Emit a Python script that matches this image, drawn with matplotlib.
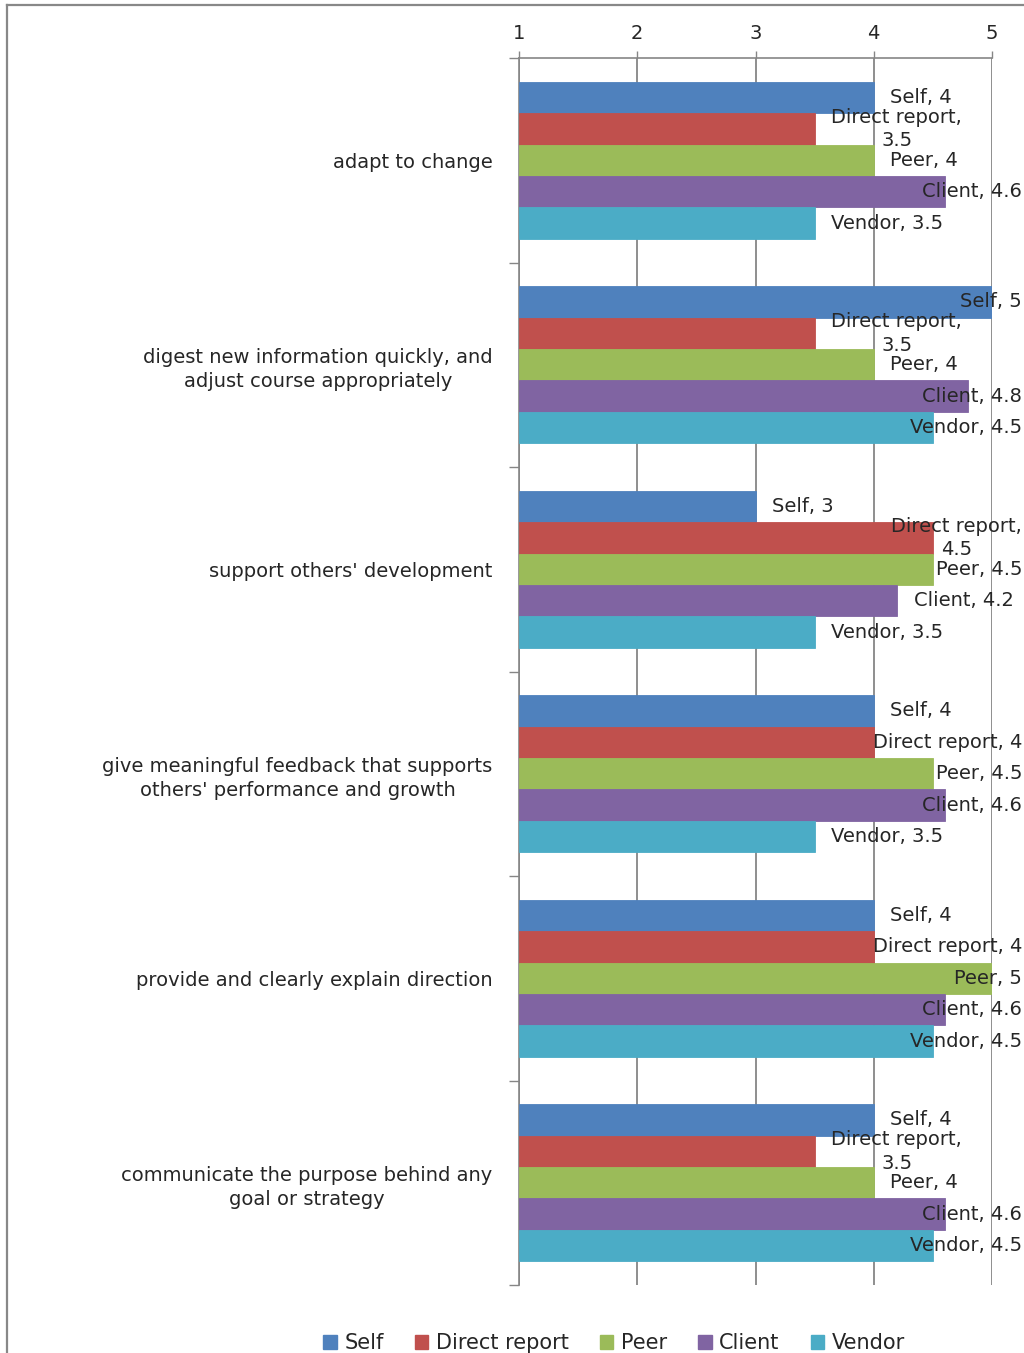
import matplotlib
matplotlib.use("Agg")
import matplotlib.pyplot as plt
from matplotlib.patches import Patch
from matplotlib.lines import Line2D
import numpy as np

categories = [
    "adapt to change",
    "digest new information quickly, and\nadjust course appropriately",
    "support others' development",
    "give meaningful feedback that supports\nothers' performance and growth",
    "provide and clearly explain direction",
    "communicate the purpose behind any\ngoal or strategy",
]
series = ["Self", "Direct report", "Peer", "Client", "Vendor"]
self_vals = [4, 5, 3, 4, 4, 4]
direct_vals = [3.5, 3.5, 4.5, 4, 4, 3.5]
peer_vals = [4, 4, 4.5, 4.5, 5, 4]
client_vals = [4.6, 4.8, 4.2, 4.6, 4.6, 4.6]
vendor_vals = [3.5, 4.5, 3.5, 3.5, 4.5, 4.5]
xticks = [1, 2, 3, 4, 5]

values = [self_vals, direct_vals, peer_vals, client_vals, vendor_vals]
colors = ["#4F81BD", "#C0504D", "#9BBB59", "#8064A2", "#4BACC6"]

W, H, DPI = 1024, 1353, 100
fig = plt.figure(figsize=(W / DPI, H / DPI), dpi=DPI)
ax = fig.add_axes([519 / W, 1 - 1285 / H, (992 - 519) / W, (1285 - 58) / H])

FONT = "DejaVu Sans"
FS = 14
TXT = "#262626"

n = len(categories)
y = np.arange(n)
group = 0.77
bh = group / len(series)
base = 1.0

for i, (s, vals, c) in enumerate(zip(series, values, colors)):
    pos = y - group / 2 + bh * (i + 0.5)
    ax.barh(pos, np.array(vals) - base, left=base, height=bh, color=c,
            edgecolor=c, linewidth=0.6, zorder=3)

ax.set_xlim(1, 5)
ax.set_ylim(n - 0.5, -0.5)
ax.xaxis.tick_top()
ax.set_xticks(xticks)
ax.set_xticklabels([str(t) for t in xticks],
                   fontfamily=["Liberation Sans Narrow", "DejaVu Sans"], fontsize=14)
ax.tick_params(axis="x", which="major", direction="out", length=5, width=1,
               color="#868686", pad=6, labelcolor=TXT)
ax.grid(axis="x", color="#868686", linewidth=1.3, zorder=0)
ax.set_axisbelow(True)

ax.set_yticks(y)
ax.set_yticklabels(categories, fontfamily=FONT, fontsize=FS, color=TXT,
                   multialignment="center", linespacing=1.35)
ax.set_yticks(np.arange(n + 1) - 0.5, minor=True)
ax.tick_params(axis="y", which="major", length=0, pad=19)
ax.tick_params(axis="y", which="minor", length=7, width=1, color="#868686")

for sp in ["right", "bottom"]:
    ax.spines[sp].set_visible(False)
ax.spines["left"].set_color("#868686")
ax.spines["top"].set_color("#868686")
ax.spines["left"].set_linewidth(1.2)
ax.spines["top"].set_linewidth(1.2)

# data labels
renderer = fig.canvas.get_renderer()
limit = 1022
px2pt = 72.0 / DPI
for i, (s, vals) in enumerate(zip(series, values)):
    pos = y - group / 2 + bh * (i + 0.5)
    for v, p in zip(vals, pos):
        label = f"{s}, {v:g}"
        if len(label) > 16:
            label = f"{s},\n{v:g}"
        t = ax.annotate(label, xy=(v, p), xytext=(12, 0), textcoords="offset points",
                        ha="left", va="center", fontsize=FS, fontfamily=FONT,
                        color=TXT, multialignment="center", zorder=5,
                        linespacing=1.3, annotation_clip=False)
        bb = t.get_window_extent(renderer)
        if bb.x1 > limit:
            t.set_position((12 - (bb.x1 - limit) * px2pt, 0))

# outer chart frame
fig.add_artist(Line2D([7 / W, 7 / W], [0, 1 - 5 / H], transform=fig.transFigure,
                      color="#888888", linewidth=1.6))
fig.add_artist(Line2D([7 / W, 1], [1 - 5 / H, 1 - 5 / H], transform=fig.transFigure,
                      color="#888888", linewidth=1.6))

handles = [Patch(facecolor=c, edgecolor=c, label=s) for s, c in zip(series, colors)]
fig.legend(handles=handles, loc="center", bbox_to_anchor=(614 / W, 1 - 1343 / H),
           ncol=5, frameon=False, handlelength=0.65, handleheight=0.65,
           handletextpad=0.35, columnspacing=1.5, borderaxespad=0,
           prop={"family": FONT, "size": FS + 1}, labelcolor=TXT)

fig.savefig("out.png", dpi=DPI)
